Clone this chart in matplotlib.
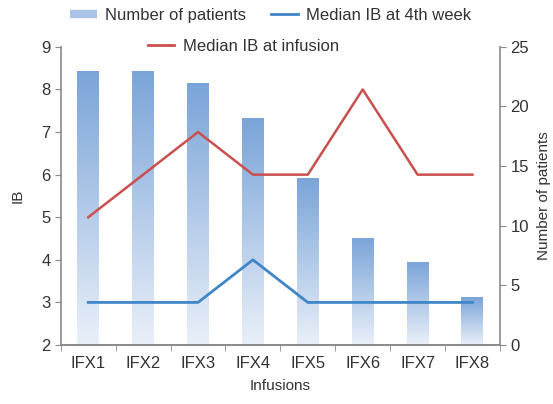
import matplotlib
matplotlib.use("Agg")
import matplotlib.pyplot as plt
from matplotlib.lines import Line2D
from matplotlib.colors import LinearSegmentedColormap
import numpy as np

plt.rcParams['font.family'] = ['Liberation Sans', 'DejaVu Sans']

# Data
infusions = ["IFX1", "IFX2", "IFX3", "IFX4", "IFX5", "IFX6", "IFX7", "IFX8"]
n_patients = [23, 23, 22, 19, 14, 9, 7, 4]
ib_infusion = [5, 6, 7, 6, 6, 8, 6, 6]
ib_4th_week = [3, 3, 3, 4, 3, 3, 3, 3]

text_col = "#333333"
axis_col = "#8a8a8a"
red = "#c9504f"
blue = "#3f86c8"

fig = plt.figure(figsize=(5.53, 4.04), dpi=100)
ax = fig.add_axes([0.110, 0.146, 0.794, 0.738])
ax2 = ax.twinx()

x = np.arange(len(infusions))

# Bars on the right axis, each with its own vertical gradient
bars = ax2.bar(x, n_patients, width=0.4, color="none", edgecolor="none")
grad = np.linspace(0, 1, 256).reshape(-1, 1)
cmap = LinearSegmentedColormap.from_list("g", ["#eaf0f9", "#7aa4d8"])
for b in bars:
    x0 = b.get_x()
    w, h = b.get_width(), b.get_height()
    im = ax2.imshow(grad, cmap=cmap, aspect="auto", origin="lower",
                    extent=[x0, x0 + w, 0, h], zorder=1)
    im.set_clip_path(b)

ax2.set_ylim(0, 25)
ax2.set_yticks([0, 5, 10, 15, 20, 25])
ax2.set_ylabel("Number of patients", color=text_col, fontsize=11, labelpad=6)

# Lines on the left axis
ax.set_zorder(ax2.get_zorder() + 1)
ax.patch.set_visible(False)
ax.plot(x, ib_infusion, color=red, lw=1.8)
ax.plot(x, ib_4th_week, color=blue, lw=2.0)
ax.set_ylim(2, 9)
ax.set_yticks(range(2, 10))
ax.set_xlim(-0.5, len(infusions) - 0.5)
ax.set_xticks(x)
ax.set_xticklabels(infusions)
ax.set_xticks(np.arange(-0.5, len(infusions), 1), minor=True)
ax.tick_params(axis="x", which="major", length=0, pad=8)
ax.tick_params(axis="x", which="minor", length=4, color=axis_col)
ax.set_xlabel("Infusions", color=text_col, fontsize=11, labelpad=6)
ax.set_ylabel("IB", color=text_col, fontsize=11, labelpad=12)

for a in (ax, ax2):
    a.spines["top"].set_visible(False)
    for s in ("left", "right", "bottom"):
        a.spines[s].set_color(axis_col)
        a.spines[s].set_linewidth(1.2)
    a.tick_params(axis="y", colors=axis_col, labelcolor=text_col, labelsize=12, length=4)
ax.tick_params(axis="x", labelcolor=text_col, labelsize=12)
ax2.spines["left"].set_visible(False)
ax.spines["right"].set_visible(False)

# Legend
h1 = Line2D([], [], color="#a9c3e6", lw=6, solid_capstyle="butt")
h2 = Line2D([], [], color=blue, lw=2)
h3 = Line2D([], [], color=red, lw=2)
leg1 = fig.legend([h1, h2], ["Number of patients", "Median IB at 4th week"],
                  loc="center", bbox_to_anchor=(0.49, 0.962), ncol=2, frameon=False,
                  fontsize=12, handlelength=1.6, columnspacing=1.5, handletextpad=0.5,
                  labelcolor=text_col)
leg2 = fig.legend([h3], ["Median IB at infusion"],
                  loc="center", bbox_to_anchor=(0.44, 0.885), frameon=False,
                  fontsize=12, handlelength=1.6, handletextpad=0.5, labelcolor=text_col)

fig.savefig("out.png", dpi=100)
